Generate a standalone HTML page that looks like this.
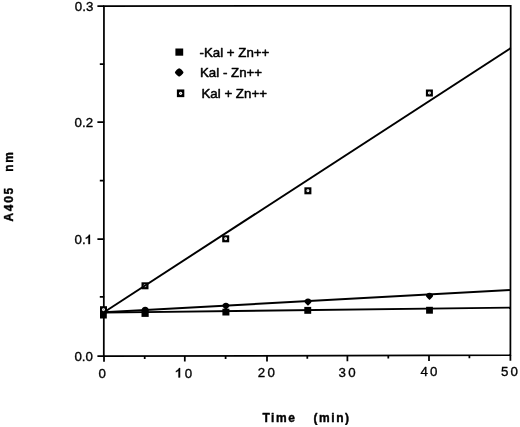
<!DOCTYPE html>
<html><head><meta charset="utf-8">
<style>
html,body{margin:0;padding:0;background:#fff;}
body{width:520px;height:427px;overflow:hidden;}
svg{display:block;}
text{font-family:"Liberation Sans",sans-serif;fill:#000;stroke:#000;stroke-width:0.35px;stroke-linejoin:round;}
.t{font-size:13.3px;}
.l{stroke-width:0.5px;}
.b{font-size:12px;font-weight:bold;stroke-width:0.4px;letter-spacing:1.6px;}
</style></head><body>
<svg width="520" height="427" viewBox="0 0 520 427">
<defs>
<path id="dm" d="M0 -3.6 C2.1 -3.6 3.6 -2 3.6 -0.3 C3 1.2 1.4 2.4 0 3.7 C-1.4 2.4 -3 1.2 -3.6 -0.3 C-3.6 -2 -2.1 -3.6 0 -3.6Z"/>
<path id="dl" d="M0 -4.1 C1.2 -4 3.9 -1.3 4.3 0 C3.9 1.3 1.2 4 0 4.1 C-1.2 4 -3.9 1.3 -4.3 0 C-3.9 -1.3 -1.2 -4 0 -4.1Z"/>
<g id="os"><rect x="-3.5" y="-3.5" width="7" height="7" fill="#000"/><circle r="1.45" fill="#fff"/><circle r="0.5" fill="#666"/></g>
</defs>
<rect width="520" height="427" fill="#fff"/>
<!-- frame -->
<g stroke="#000" stroke-width="1.75" fill="none" stroke-linecap="butt" stroke-linejoin="miter">
<path d="M103.95 6.1 L510.7 5.8 L510.4 355.2 L103.8 356.2 Z"/>
<path d="M97.4 6.1H104.2 M97.4 122.2H104.2 M97.4 239.2H104.2 M97.4 356.2H104.2"/>
<path d="M99.8 64H104.2 M99.8 180.6H104.2 M99.8 296.9H104.2"/>
<path d="M104 356V361.8 M184.8 356V361.6 M267 355.8V361.4 M347.4 355.6V361.2 M429 355.4V361 M510.4 355.2V360.8"/>
<path d="M144.7 356V359 M225.6 355.9V358.9 M307.3 355.7V358.7 M388.3 355.5V358.5 M469.4 355.3V358.3"/>
</g>
<!-- open squares (under lines) -->
<use href="#os" x="103.5" y="309.7"/>
<use href="#os" x="145" y="285.8"/>
<use href="#os" x="225.7" y="238.8"/>
<use href="#os" x="307.9" y="190.8"/>
<use href="#os" x="429.4" y="93"/>
<use href="#os" x="180.6" y="93.3" transform="translate(180.6 93.3) scale(1.06 1.1) translate(-180.6 -93.3)"/>
<!-- data lines -->
<g stroke="#000" stroke-width="1.95" fill="none">
<path d="M104 312.2 L510.7 48.1"/>
<path d="M104 312.3 L510.7 290"/>
<path d="M104 312.6 L510.7 307.6"/>
</g>
<!-- filled squares -->
<g fill="#000">
<rect x="100" y="312.3" width="6.8" height="6.2"/>
<rect x="141.5" y="310.6" width="7.2" height="6.3"/>
<rect x="222.4" y="308.7" width="7" height="6.8"/>
<rect x="304.3" y="306.9" width="6.9" height="6.9"/>
<rect x="426.1" y="306.8" width="6.8" height="6.9"/>
<rect x="175.4" y="48.5" width="7.8" height="7.2"/>
</g>
<!-- diamonds -->
<g fill="#000">
<use href="#dm" x="145.2" y="310.4"/>
<use href="#dm" x="225.9" y="306.4"/>
<use href="#dm" x="308" y="302"/>
<use href="#dm" x="429.5" y="296.3"/>
<use href="#dl" x="179.2" y="72.4"/>
</g>
<g opacity="0.999">
<!-- legend text -->
<text class="t l" x="199.5" y="56.6">-Kal + Zn++</text>
<text class="t l" x="200" y="76.9">Kal - Zn++</text>
<text class="t l" x="201.5" y="97.7">Kal + Zn++</text>
<!-- y labels -->
<text class="t" x="74.8" y="11.4">0.3</text>
<text class="t" x="74.6" y="126.6">0.2</text>
<text class="t" x="74.6" y="244.3">0.</text>
<path fill="#000" stroke="#000" stroke-width="0.3" d="M90.0 244.1 V234.7 H88.90 C88.50 236.20 87.20 237.10 85.80 237.60 V238.90 C86.90 238.50 87.70 238.00 88.35 237.40 V244.1 Z"/>
<text class="t" x="74.4" y="360.8">0.0</text>
<!-- x labels -->
<text class="t" x="98.6" y="377.6">0</text>
<path fill="#000" stroke="#000" stroke-width="0.3" d="M180.1 377.4 V368.0 H179.00 C178.60 369.50 177.30 370.40 175.90 370.90 V372.20 C177.00 371.80 177.80 371.30 178.45 370.70 V377.4 Z"/>
<text class="t" x="184.8" y="377.9">0</text>
<text class="t" x="257.8" y="377.2" letter-spacing="2.2">20</text>
<text class="t" x="338.6" y="376.5" letter-spacing="2.2">30</text>
<text class="t" x="420.4" y="376" letter-spacing="2.2">40</text>
<text class="t" x="501" y="375.8" letter-spacing="2.2">50</text>
<!-- axis titles -->
<text class="b" x="262.4" y="421.6">Time</text>
<text class="b" x="313.4" y="421.6">(min)</text>
<text class="b" transform="translate(13 221.4) rotate(-90)">A405</text>
<text class="b" transform="translate(13 171.8) rotate(-90)">nm</text>
</g>
</svg>
</body></html>
